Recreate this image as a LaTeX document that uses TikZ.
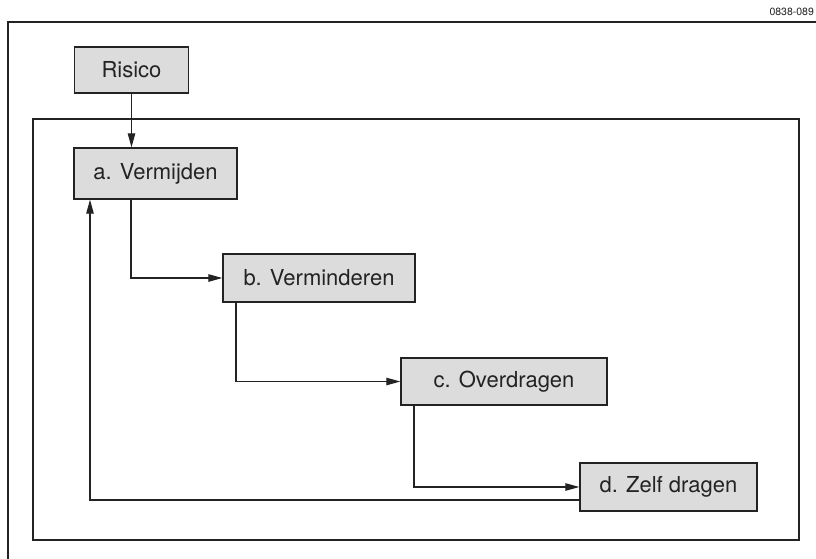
\documentclass[tikz,border=0pt]{standalone}
\usepackage{fontspec}
\setmainfont{TeX Gyre Heros}
\usetikzlibrary{arrows.meta}
\definecolor{boxfill}{HTML}{DCDCDD}
\definecolor{ink}{HTML}{232323}
\begin{document}
\begin{tikzpicture}[x=1pt,y=-1pt,
  stepbox/.style={draw=ink,line width=1.4pt,fill=boxfill,inner sep=0pt,font=\fontsize{22}{26}\selectfont,text=ink},
  conn/.style={draw=ink,line width=1.1pt,-{Triangle[length=14pt,width=7.5pt]}},
  frame/.style={draw=ink,line width=1.2pt}]
\useasboundingbox (0,0) rectangle (816,558);
\draw[frame] (8,600) -- (8,22) -- (830,22);
\draw[frame] (33,119) rectangle (799,540);
\node[font=\fontsize{10.5}{12}\selectfont,text=ink,anchor=west] (code) at (766,12) {0838-089};
\node[stepbox,minimum width=114pt,minimum height=46pt] (r) at (131.5,70) {Risico};
\node[stepbox,minimum width=163pt,minimum height=51pt] (a) at (155.5,173.5) {a. Vermijden};
\node[stepbox,minimum width=192pt,minimum height=48pt] (b) at (319,278) {b. Verminderen};
\node[stepbox,minimum width=206pt,minimum height=47pt] (c) at (504,381.5) {c. Overdragen};
\node[stepbox,minimum width=177pt,minimum height=48pt] (d) at (668.5,487) {d. Zelf dragen};
\draw[conn] (r.south) -- (r.south |- a.north);
\draw[conn] (a.south -| 131,0) |- (b.west);
\draw[conn] (b.south -| 236,0) |- (c.west);
\draw[conn] (c.south -| 414,0) |- (d.west);
\draw[conn] (d.west |- 0,500) -| (a.south -| 90,0);
\end{tikzpicture}
\end{document}
